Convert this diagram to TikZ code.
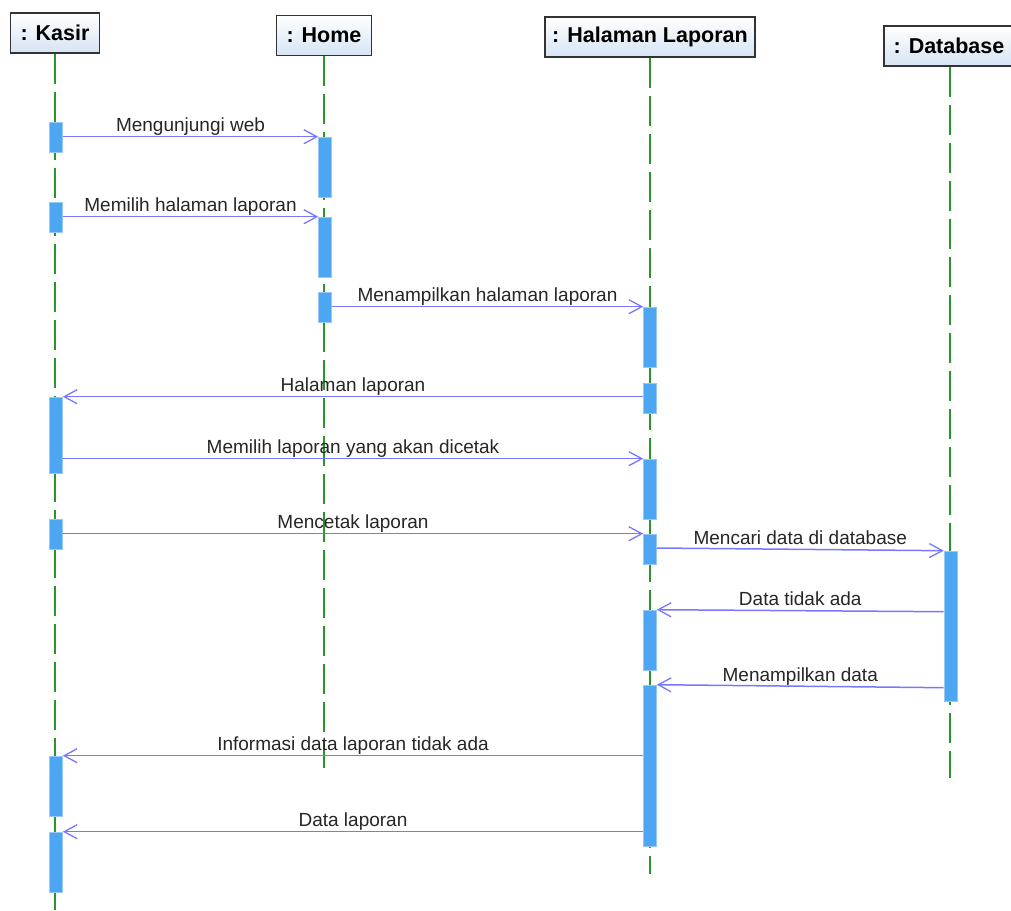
\documentclass[tikz,border=0pt]{standalone}
\usepackage{fontspec}
\setmainfont{Liberation Sans}
\usetikzlibrary{arrows.meta,calc}

\definecolor{lifegreen}{RGB}{40,150,40}
\definecolor{barblue}{RGB}{76,166,242}
\definecolor{baredge}{RGB}{150,200,245}
\definecolor{msgblue}{RGB}{120,120,255}
\definecolor{headbottom}{RGB}{214,228,244}

\tikzset{
  header/.style={draw=black!80, line width=1.5pt, top color=white, bottom color=headbottom,
    minimum height=40pt, inner sep=0pt, font=\bfseries\fontsize{21.5}{24}\selectfont},
  lifeline/.style={lifegreen, line width=1.4pt, dash pattern=on 30pt off 8pt},
  actbar/.style={fill=barblue, draw=baredge, line width=0.6pt, minimum width=13pt, inner sep=0pt},
  msg/.style={msgblue, line width=1.5pt, -{Straight Barb[length=13pt,width=14pt,line width=1.3pt]}},
  msglabel/.style={midway, anchor=base, yshift=5pt, inner sep=0pt, text=black!85,
    font=\fontsize{19}{22}\selectfont}
}

\begin{document}
\begin{tikzpicture}[x=1pt, y=-1pt]
  \clip (0,0) rectangle (1011,910);
  \fill[white] (0,0) rectangle (1011,910);

  % object headers
  \node[header, minimum width=89pt]  (kasir) at (55,33)   {: Kasir};
  \node[header, minimum width=95pt]  (home)  at (324,35.5) {: Home};
  \node[header, minimum width=210pt] (hal)   at (650,37)  {: Halaman Laporan};
  \node[header, minimum width=132pt] (db)    at (950,46)  {\hspace*{-2pt}: Database};

  % lifeline ends
  \coordinate (kasirEnd) at (55,910);
  \coordinate (homeEnd)  at (324,768);
  \coordinate (halEnd)   at (650,874);
  \coordinate (dbEnd)    at (950,778);

  \draw[lifeline] (kasir.south) -- (kasirEnd);
  \draw[lifeline] (home.south)  -- (homeEnd);
  \draw[lifeline] (hal.south)   -- (halEnd);
  \draw[lifeline] (db.south)    -- (dbEnd);

  % activation bars: Kasir
  \node[actbar, minimum height=30pt] (k1) at (56,137) {};
  \node[actbar, minimum height=30pt] (k2) at (56,217) {};
  \node[actbar, minimum height=76pt] (k3) at (56,435) {};
  \node[actbar, minimum height=30pt] (k4) at (56,534) {};
  \node[actbar, minimum height=60pt] (k5) at (56,786) {};
  \node[actbar, minimum height=60pt] (k6) at (56,862) {};
  % Home
  \node[actbar, minimum height=60pt] (h1) at (325,167) {};
  \node[actbar, minimum height=60pt] (h2) at (325,247) {};
  \node[actbar, minimum height=30pt] (h3) at (325,307) {};
  % Halaman Laporan
  \node[actbar, minimum height=60pt]  (l1) at (650,337) {};
  \node[actbar, minimum height=30pt]  (l2) at (650,398) {};
  \node[actbar, minimum height=60pt]  (l3) at (650,489) {};
  \node[actbar, minimum height=30pt]  (l4) at (650,549) {};
  \node[actbar, minimum height=60pt]  (l5) at (650,640) {};
  \node[actbar, minimum height=161pt] (l6) at (650,765.5) {};
  % Database
  \node[actbar, minimum height=150pt] (d1) at (950.5,626) {};

  % messages
  \draw[msg] (k1.east |- h1.north) -- (h1.north west) node[msglabel] {Mengunjungi web};
  \draw[msg] (k2.east |- h2.north) -- (h2.north west) node[msglabel] {Memilih halaman laporan};
  \draw[msg] (h3.east |- l1.north) -- (l1.north west) node[msglabel] {Menampilkan halaman laporan};
  \draw[msg] (l2.west |- k3.north) -- (k3.north east) node[msglabel] {Halaman laporan};
  \draw[msg] (k3.east |- l3.north) -- (l3.north west) node[msglabel] {Memilih laporan yang akan dicetak};
  \draw[msg] (k4.east |- l4.north) -- (l4.north west) node[msglabel] {Mencetak laporan};
  \draw[msg] ($(l4.east)+(0,-1)$) -- (d1.north west) node[msglabel] {Mencari data di database};
  \draw[msg] ($(d1.west |- l5.north)+(0,2)$) -- (l5.north east) node[msglabel] {Data tidak ada};
  \draw[msg] ($(d1.west |- l6.north)+(0,3)$) -- (l6.north east) node[msglabel] {Menampilkan data};
  \draw[msg] (l6.west |- k5.north) -- (k5.north east) node[msglabel] {Informasi data laporan tidak ada};
  \draw[msg] (l6.west |- k6.north) -- (k6.north east) node[msglabel] {Data laporan};
\end{tikzpicture}
\end{document}
